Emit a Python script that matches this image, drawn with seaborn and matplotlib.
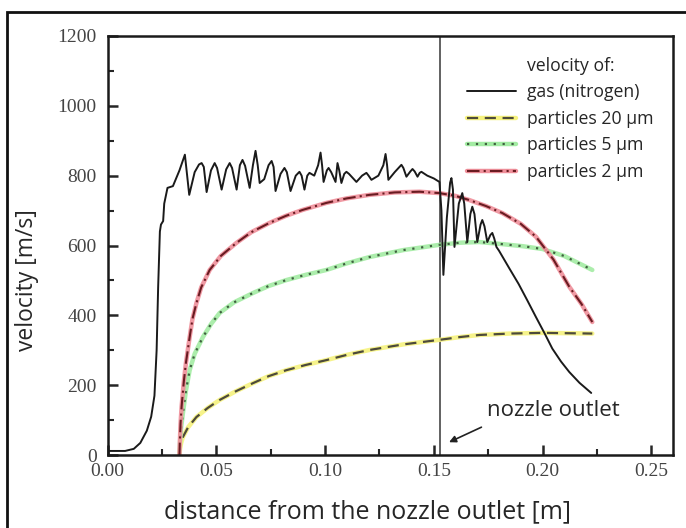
import numpy as np
import pandas as pd
import seaborn as sns
import matplotlib.pyplot as plt
from matplotlib.lines import Line2D
from matplotlib.patches import Rectangle
from matplotlib.legend_handler import HandlerTuple

# gas (nitrogen) velocity
gas_x = [0.0, 0.008, 0.012, 0.015, 0.018, 0.020, 0.0215, 0.0225, 0.0232, 0.024, 0.0245,
         0.0255, 0.026, 0.0275, 0.030, 0.033, 0.0355, 0.0375,
         0.0400, 0.0420, 0.0432, 0.0442, 0.0455,
         0.0475, 0.0492, 0.0503, 0.0524,
         0.0545, 0.0561, 0.0572, 0.0593,
         0.0608, 0.0620, 0.0632, 0.0653,
         0.0668, 0.0680, 0.0690, 0.0699, 0.0720, 0.0740, 0.0754, 0.0763, 0.0772,
         0.0795, 0.0813, 0.0824, 0.0841,
         0.0865, 0.0882, 0.0892, 0.0905,
         0.0918, 0.0928, 0.0950, 0.0968, 0.0979, 0.0986, 0.0993,
         0.1008, 0.1016, 0.1028, 0.1048, 0.1057, 0.1065, 0.1075,
         0.1088, 0.1098, 0.1110, 0.1144, 0.1170, 0.1190, 0.1200, 0.1213,
         0.1245, 0.1268, 0.1278, 0.1285, 0.1291,
         0.1320, 0.1351, 0.1360, 0.1374, 0.1392, 0.1402, 0.1412, 0.1425,
         0.1435, 0.1443, 0.1470, 0.1500, 0.1526,
         0.1535, 0.1544, 0.1560, 0.1575, 0.1581, 0.1588, 0.1595,
         0.1615, 0.1631, 0.1640, 0.1654, 0.1668, 0.1677, 0.1687, 0.1700,
         0.1715, 0.1723, 0.1733, 0.1746, 0.1760, 0.1769, 0.1778, 0.1788,
         0.1800, 0.1847, 0.1890, 0.1930, 0.1970, 0.2010, 0.2045, 0.2085, 0.2123, 0.2170, 0.2224]
gas_v = [12, 12, 18, 35, 70, 110, 170, 300, 480, 640, 660,
         670, 720, 765, 770, 815, 860, 745,
         810, 832, 836, 825, 753,
         815, 836, 822, 760,
         818, 836, 822, 760,
         830, 845, 828, 765,
         830, 871, 830, 779, 790, 830, 842, 825, 756,
         805, 822, 810, 756,
         800, 811, 800, 760,
         800, 808, 800, 830, 866, 830, 782,
         815, 822, 810, 782, 836, 815, 779,
         805, 811, 805, 782, 800, 808, 800, 788,
         800, 830, 862, 830, 788,
         810, 831, 822, 797, 812, 819, 812, 797,
         808, 811, 800, 792, 782,
         700, 516, 680, 780, 793, 760, 596,
         720, 750, 720, 610, 690, 711, 690, 610,
         660, 673, 655, 610, 630, 636, 620, 596,
         585, 535, 490, 443, 395, 348, 305, 268, 238, 207, 178]

p20_x = [0.033, 0.0333, 0.0338, 0.0346, 0.037, 0.0408, 0.046, 0.0515, 0.059, 0.0668, 0.074,
         0.0821, 0.091, 0.1006, 0.110, 0.1204, 0.136, 0.1526, 0.162, 0.171, 0.185, 0.200, 0.2229]
p20_v = [0, 18, 35, 52, 80, 109, 135, 158, 183, 206, 226,
         243, 258, 272, 287, 301, 317, 330, 338, 344, 348, 350, 348]

p5_x = [0.033, 0.0333, 0.0338, 0.0346, 0.036, 0.0377, 0.040, 0.0438, 0.0475, 0.0515, 0.058,
        0.0668, 0.074, 0.0821, 0.091, 0.1006, 0.110, 0.1204, 0.136, 0.1526, 0.162, 0.171,
        0.1815, 0.191, 0.200, 0.210, 0.2229]
p5_v = [0, 40, 80, 120, 185, 243, 290, 338, 375, 407, 437,
        464, 484, 501, 516, 530, 549, 567, 587, 602, 608, 610,
        604, 598, 590, 570, 530]

p2_x = [0.033, 0.0332, 0.0335, 0.034, 0.035, 0.036, 0.0377, 0.039, 0.0408, 0.043, 0.0469,
        0.052, 0.0591, 0.066, 0.0745, 0.082, 0.0897, 0.1006, 0.110, 0.1204, 0.132, 0.1434,
        0.1526, 0.160, 0.1664, 0.174, 0.1815, 0.190, 0.197, 0.205, 0.2123, 0.218, 0.2229]
p2_v = [0, 40, 90, 140, 210, 265, 338, 390, 435, 480, 530,
        570, 607, 638, 665, 685, 702, 722, 735, 745, 752, 754,
        750, 742, 730, 713, 693, 662, 625, 560, 482, 432, 381]

nozzle_x = 0.153

sns.set_style("ticks")
plt.rcParams['font.family'] = ['Open Sans', 'DejaVu Sans']

fig = plt.figure(figsize=(6.86, 5.28), dpi=100)
ax = fig.add_axes([0.157, 0.138, 0.824, 0.794])

gas = pd.DataFrame({"x": gas_x, "v": gas_v})
d20 = pd.DataFrame({"x": p20_x, "v": p20_v})
d5 = pd.DataFrame({"x": p5_x, "v": p5_v})
d2 = pd.DataFrame({"x": p2_x, "v": p2_v})

sty20 = dict(halo="#f6f27e", col="#4d4a3a", lw=1.6, ls=(0, (5, 3)))
sty5 = dict(halo="#a3eca3", col="#3f5f3f", lw=1.6, ls=(0, (1, 3)))
sty2 = dict(halo="#ef8f9a", col="#6a1c22", lw=1.5, ls=(0, (6, 2, 1, 2)))

# coloured halo under each particle curve, then the dark pattern on top
for d, s in [(d20, sty20), (d5, sty5), (d2, sty2)]:
    sns.lineplot(data=d, x="x", y="v", ax=ax, color=s["halo"], lw=3.2, alpha=0.9)
    sns.lineplot(data=d, x="x", y="v", ax=ax, color=s["col"], lw=s["lw"], ls=s["ls"])
sns.lineplot(data=gas, x="x", y="v", ax=ax, color="#1a1a1a", lw=1.4)

ax.axvline(nozzle_x, color="#555555", lw=1.3, zorder=1)

ax.set_xlim(0, 0.26)
ax.set_ylim(0, 1200)
ax.set_xticks([0, 0.05, 0.10, 0.15, 0.20, 0.25])
ax.set_xticks([0.025, 0.075, 0.125, 0.175, 0.225], minor=True)
ax.set_yticks(range(0, 1201, 200))
ax.set_yticks(range(100, 1200, 200), minor=True)
ax.set_xticklabels(["0.00", "0.05", "0.10", "0.15", "0.20", "0.25"])
for lab in ax.get_xticklabels() + ax.get_yticklabels():
    lab.set_fontfamily("Liberation Serif")
    lab.set_fontsize(14)
    lab.set_color("#444444")
ax.tick_params(which="major", direction="in", length=7, width=1.8)
ax.tick_params(axis="x", pad=6)
ax.tick_params(axis="y", pad=8)
ax.tick_params(which="minor", direction="in", length=4, width=1.5)
ax.tick_params(top=False, right=False)
for s in ax.spines.values():
    s.set_visible(True)
    s.set_linewidth(1.8)
    s.set_color("#1a1a1a")

ax.set_xlabel("distance from the nozzle outlet [m]", fontsize=18)
ax.set_ylabel("velocity [m/s]", fontsize=16.5)
ax.xaxis.set_label_coords(0.46, -0.105)
ax.yaxis.set_label_coords(-0.121, 0.418)

ax.text(0.1746, 129, "nozzle outlet", fontsize=16, va="center", ha="left")
ax.annotate("", xy=(0.157, 37), xytext=(0.1719, 80),
            arrowprops=dict(arrowstyle="-|>", color="#222222", lw=1.2,
                            shrinkA=0, shrinkB=0, mutation_scale=10))

h_title = Line2D([], [], color="none")
h_gas = Line2D([], [], color="#1a1a1a", lw=1.4)
hs = [(Line2D([], [], color=s["halo"], lw=3.2),
       Line2D([], [], color=s["col"], lw=s["lw"], ls=s["ls"])) for s in (sty20, sty5, sty2)]
ax.legend([h_title, h_gas] + hs,
          ["velocity of:", "gas (nitrogen)", "particles 20 µm", "particles 5 µm", "particles 2 µm"],
          handler_map={tuple: HandlerTuple(ndivide=1, pad=0)},
          loc="upper left", bbox_to_anchor=(0.635, 0.95), frameon=False,
          fontsize=12.7, handlelength=2.8, handletextpad=0.6, labelspacing=0.48,
          borderpad=0, borderaxespad=0)

fig.patches.append(Rectangle((7 / 686, -0.05), 1.5, 1.05 - 12 / 528,
                             transform=fig.transFigure, fill=False, lw=2,
                             edgecolor="#111111", clip_on=False))

fig.savefig("out.png", dpi=100)
